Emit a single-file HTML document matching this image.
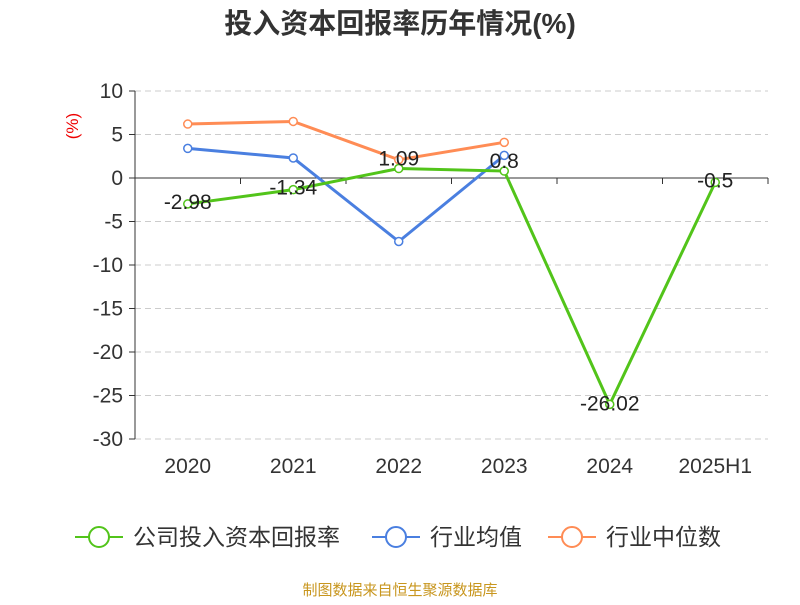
<!DOCTYPE html>
<html><head><meta charset="utf-8"><style>
body{margin:0;background:#fff;width:800px;height:600px;overflow:hidden;font-family:"Liberation Sans","Noto Sans CJK SC",sans-serif}
</style></head><body>
<svg width="800" height="600" xmlns="http://www.w3.org/2000/svg" font-family="Liberation Sans, Noto Sans CJK SC, sans-serif">
<text x="400" y="33" text-anchor="middle" font-size="28" font-weight="bold" fill="#333">投入资本回报率历年情况(%)</text>
<text x="78" y="126" font-size="17" fill="#e00" transform="rotate(-90 78 126)" text-anchor="middle">(%)</text>
<g id="grid"></g><g id="axes"></g><g id="series"></g><g id="legend"></g>
<text x="400" y="595" text-anchor="middle" font-size="15" fill="#c8961e">制图数据来自恒生聚源数据库</text>
</svg>
<script>
const categories=["2020","2021","2022","2023","2024","2025H1"];
const roic=[-2.98,-1.34,1.09,0.8,-26.02,-0.5];
const industryAvg=[3.4,2.3,-7.3,2.6];
const industryMedian=[6.2,6.5,2.1,4.1];
const yTicks=[10,5,0,-5,-10,-15,-20,-25,-30];
const NS="http://www.w3.org/2000/svg";
const L=135,R=768,T=91,B=439,ymax=10,ymin=-30;
const bw=(R-L)/categories.length;
const x=i=>L+bw*(i+0.5);
const y=v=>T+(ymax-v)/(ymax-ymin)*(B-T);
function mk(tag,attrs,parent){const e=document.createElementNS(NS,tag);for(const k in attrs)e.setAttribute(k,attrs[k]);document.getElementById(parent).appendChild(e);return e;}
yTicks.forEach(t=>{
 if(t!==0){const g=mk('line',{x1:L,x2:R,y1:y(t),y2:y(t),stroke:'#ccc','stroke-dasharray':'6,4'},'grid');
 
 }
 const tk=mk('line',{x1:L-6,x2:L,y1:y(t),y2:y(t),stroke:'#333'},'axes');
 
 
 const lb=mk('text',{x:L-12,y:y(t)+7,'text-anchor':'end','font-size':21,fill:'#333'},'axes');lb.textContent=t;
 
 
});
const ya=mk('line',{x1:L,x2:L,y1:T,y2:B,stroke:'#333'},'axes');


const xa=mk('line',{x1:L,x2:R,y1:y(0),y2:y(0),stroke:'#333'},'axes');


for(let i=0;i<=categories.length;i++){const tk=mk('line',{x1:L+bw*i,x2:L+bw*i,y1:y(0),y2:y(0)+6,stroke:'#333'},'axes');
 
 }
categories.forEach((c,i)=>{const lb=mk('text',{x:x(i),y:473,'text-anchor':'middle','font-size':21,fill:'#333'},'axes');lb.textContent=c;
 
 });
function series(vals,color,name,labels){
 const pts=vals.map((v,i)=>x(i)+','+y(v)).join(' ');
 const pl=mk('polyline',{points:pts,fill:'none',stroke:color,'stroke-width':3},'series');
 
 
 vals.forEach((v,i)=>{const c=mk('circle',{cx:x(i),cy:y(v),r:4,fill:'#fff',stroke:color,'stroke-width':1.5},'series');
  
  
  if(labels){const off=(v<-20?6:(v<0?5:-3));const t=mk('text',{x:x(i),y:y(v)+off,'text-anchor':'middle','font-size':21,fill:'#222'},'series');t.textContent=v;
  
  }
 });
}
series(industryMedian,'#ff8c55','industry-median',false);
series(industryAvg,'#4a7fe0','industry-average',false);
series(roic,'#52c41a','roic',true);
const legend=[['公司投入资本回报率','#52c41a',75],['行业均值','#4a7fe0',372],['行业中位数','#ff8c55',548]];
legend.forEach(([t,c,lx])=>{
 const l=mk('line',{x1:lx,x2:lx+48,y1:537,y2:537,stroke:c,'stroke-width':2},'legend');
 
 
 const ci=mk('circle',{cx:lx+24,cy:537,r:10,fill:'#fff',stroke:c,'stroke-width':2},'legend');
 
 
 const tx=mk('text',{x:lx+58,y:545,'font-size':23,fill:'#333'},'legend');tx.textContent=t;
 
 
});
</script>
</body></html>
